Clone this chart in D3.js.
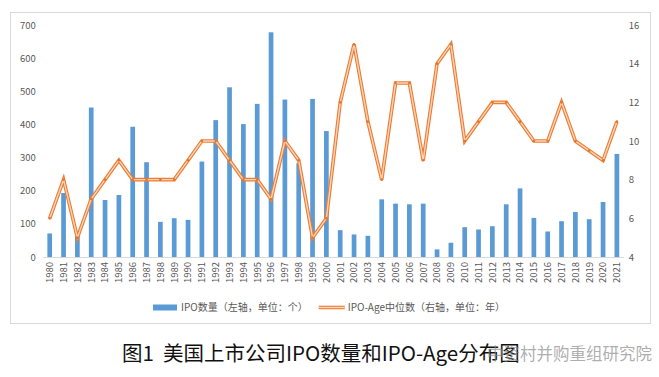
<!DOCTYPE html>
<html>
<head>
<meta charset="utf-8">
<script src="https://cdn.jsdelivr.net/npm/d3@7"></script>
<style>
	body { margin: 0; background: #fff; }
	svg text { font-family: "Noto Sans CJK SC", "Noto Sans", sans-serif; }
</style>
</head>
<body>
<svg id="chart" width="659" height="377"></svg>
<script>
'use strict';

var aYears = d3.range(1980, 2022).map(String);
var aIpoCount = [71, 193, 75, 451, 172, 187, 393, 286, 106, 117, 112, 288, 413,
	512, 401, 462, 678, 475, 283, 477, 380, 81, 68, 64, 174, 161, 159,
	161, 23, 43, 90, 83, 93, 159, 207, 118, 77, 108, 136, 114, 166, 311];
var aIpoAge = [6, 8, 5, 7, 8, 9, 8, 8, 8, 8, 9, 10, 10,
	9, 8, 8, 7, 10, 9, 5, 6, 12, 15, 11, 8, 13, 13,
	9, 14, 15, 10, 11, 12, 12, 11, 10, 10, 12, 10, 9.5, 9, 11];
var aLeftTicks = [0, 100, 200, 300, 400, 500, 600, 700];
var aRightTicks = [4, 6, 8, 10, 12, 14, 16];
var aLegends = ['IPO数量（左轴，单位：个）', 'IPO-Age中位数（右轴，单位：年）'];
var strTitle = '图1  美国上市公司IPO数量和IPO-Age分布图';
var strWatermark = '中资村并购重组研究院';

var sSvg = d3.select('#chart');

// chart frame
sSvg.append('rect')
	.attr('x', 10.5).attr('y', 12.5)
	.attr('width', 640).attr('height', 311)
	.attr('fill', '#fff')
	.attr('stroke', '#d9d9d9');

var rPlot = {left: 42.8, right: 623.8, top: 25, bottom: 257};

var scaleX = d3.scaleBand()
	.domain(aYears)
	.range([rPlot.left, rPlot.right]);

var scaleYL = d3.scaleLinear().domain([0, 700]).range([rPlot.bottom, rPlot.top]);
var scaleYR = d3.scaleLinear().domain([4, 16]).range([rPlot.bottom, rPlot.top]);

var strTick = '#595959';

// bars
var nBarW = scaleX.bandwidth() * 0.34;
sSvg.append('g').selectAll('rect')
	.data(aIpoCount)
	.enter()
		.append('rect')
		.attr('x', function(d, i) { return scaleX(aYears[i]) + scaleX.bandwidth()/2 - nBarW/2; })
		.attr('y', function(d) { return scaleYL(d); })
		.attr('width', nBarW)
		.attr('height', function(d) { return scaleYL(0) - scaleYL(d); })
		.attr('fill', '#5B9BD5');

// x axis
var axisX = d3.axisBottom(scaleX).tickSize(0).tickPadding(0);
var sAxisX = sSvg.append('g')
	.attr('transform', 'translate(0,' + rPlot.bottom + ')')
	.call(axisX);
sAxisX.select('.domain').attr('stroke', '#d9d9d9');
sAxisX.selectAll('text')
	.attr('transform', 'rotate(-90)')
	.attr('x', -5).attr('y', 0).attr('dy', '0.35em')
	.style('text-anchor', 'end')
	.attr('fill', strTick)
	.style('font-size', '9.5px');

// left axis
var axisYL = d3.axisLeft(scaleYL).tickValues(aLeftTicks).tickSize(0).tickPadding(7);
var sAxisYL = sSvg.append('g')
	.attr('transform', 'translate(' + rPlot.left + ',0)')
	.call(axisYL);
sAxisYL.select('.domain').remove();
sAxisYL.selectAll('text').attr('fill', strTick).style('font-size', '9.5px');

// right axis
var axisYR = d3.axisRight(scaleYR).tickValues(aRightTicks).tickSize(0).tickPadding(5);
var sAxisYR = sSvg.append('g')
	.attr('transform', 'translate(' + rPlot.right + ',0)')
	.call(axisYR);
sAxisYR.select('.domain').remove();
sAxisYR.selectAll('text').attr('fill', strTick).style('font-size', '9.5px');

// line (double stroke)
var lineAge = d3.line()
	.x(function(d, i) { return scaleX(aYears[i]) + scaleX.bandwidth()/2; })
	.y(function(d) { return scaleYR(d); });

sSvg.append('path')
	.datum(aIpoAge)
	.attr('d', lineAge)
	.attr('fill', 'none')
	.attr('stroke', '#ED7D31')
	.attr('stroke-width', 3.6)
	.attr('stroke-linejoin', 'miter');
sSvg.append('path')
	.datum(aIpoAge)
	.attr('d', lineAge)
	.attr('fill', 'none')
	.attr('stroke', '#F9D3BA')
	.attr('stroke-width', 1.4)
	.attr('stroke-linejoin', 'miter');

sSvg.append('g').selectAll('circle')
	.data(aIpoAge)
	.enter()
		.append('circle')
		.attr('cx', function(d, i) { return scaleX(aYears[i]) + scaleX.bandwidth()/2; })
		.attr('cy', function(d) { return scaleYR(d); })
		.attr('r', 1.3)
		.attr('fill', '#E8732A');

// legend
var sLegend = sSvg.append('g').attr('class', 'legendbox');
var sL1 = sLegend.append('g');
sL1.append('rect')
	.attr('x', 0).attr('y', -3).attr('width', 24).attr('height', 6)
	.attr('fill', '#5B9BD5');
sL1.append('text')
	.attr('x', 28).attr('y', 0).attr('dy', '0.35em')
	.attr('fill', strTick).style('font-size', '10px')
	.text(aLegends[0]);

var sL2 = sLegend.append('g');
sL2.append('line')
	.attr('x1', 0).attr('x2', 26).attr('y1', 0).attr('y2', 0)
	.attr('stroke', '#ED7D31').attr('stroke-width', 3.6);
sL2.append('line')
	.attr('x1', 0).attr('x2', 26).attr('y1', 0).attr('y2', 0)
	.attr('stroke', '#F9D3BA').attr('stroke-width', 1.4);
sL2.append('text')
	.attr('x', 29).attr('y', 0).attr('dy', '0.35em')
	.attr('fill', strTick).style('font-size', '10px')
	.text(aLegends[1]);

var nW1 = sL1.node().getBBox().width;
sL2.attr('transform', 'translate(' + (nW1 + 11) + ',0)');
var nLegW = sLegend.node().getBBox().width;
sLegend.attr('transform', 'translate(' + (329 - nLegW/2) + ',307.5)');

// title
sSvg.append('text')
	.attr('x', 122).attr('y', 361)
	.attr('fill', '#111')
	.style('font-size', '20.5px')
	.style('white-space', 'pre')
	.text(strTitle);

// watermark (overlaps the title end, as in the source image)
sSvg.append('text')
	.attr('x', 652).attr('y', 360)
	.style('text-anchor', 'end')
	.attr('fill', '#8a8a8a')
	.attr('fill-opacity', 0.7)
	.style('font-size', '16.5px')
	.text(strWatermark);
</script>
</body>
</html>
